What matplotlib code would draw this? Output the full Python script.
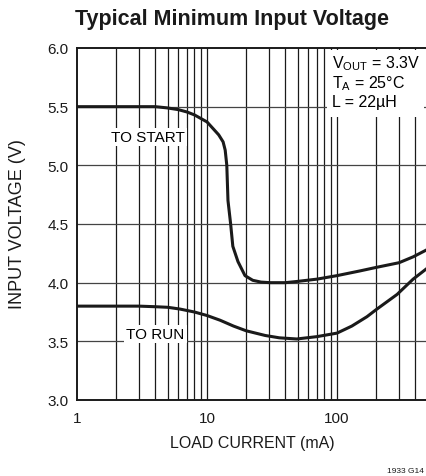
import numpy as np
import matplotlib; matplotlib.use('Agg')
import matplotlib.pyplot as plt
from matplotlib.ticker import FixedLocator, NullFormatter

plt.rcParams['font.family'] = ['Liberation Sans Narrow', 'Liberation Sans', 'DejaVu Sans']
plt.rcParams['mathtext.fontset'] = 'custom'
plt.rcParams['mathtext.rm'] = 'Liberation Sans'

# curve readings (load current mA, input voltage V)
start_x = [1, 2, 3, 4, 4.9, 6, 7, 8, 10, 11.2, 12.3, 13.3, 13.8, 14.2, 14.5, 15.2, 15.8, 17.3, 19.6, 22.5, 26, 30.5, 40, 49, 70, 100, 150, 200, 300, 385, 490]
start_y = [5.50, 5.50, 5.50, 5.50, 5.49, 5.475, 5.455, 5.43, 5.37, 5.31, 5.26, 5.20, 5.13, 5.00, 4.70, 4.50, 4.31, 4.18, 4.06, 4.02, 4.005, 4.00, 4.00, 4.01, 4.03, 4.06, 4.10, 4.13, 4.17, 4.22, 4.28]
run_x = [1, 2, 3, 4, 5, 6.2, 8, 10, 12.6, 16, 20, 28, 36, 49, 70, 100, 130, 170, 200, 290, 385, 490]
run_y = [3.80, 3.80, 3.80, 3.795, 3.79, 3.775, 3.75, 3.72, 3.68, 3.63, 3.59, 3.55, 3.53, 3.52, 3.54, 3.57, 3.63, 3.71, 3.77, 3.90, 4.03, 4.12]

fig = plt.figure(figsize=(4.27, 4.77), dpi=100)
ax = fig.add_axes([77/427, 1 - 401/477, 1 - 77/427, (401 - 49)/477])

ax.set_xscale('log')
ax.set_xlim(1, 10 ** ((427 - 77) / 130.0))
ax.set_ylim(3.0, 6.0)

# grid
for v in list(range(2, 10)) + list(range(10, 100, 10)) + list(range(100, 500, 100)):
    ax.axvline(v, color='#1a1a1a', lw=0.9, zorder=1)
for y in [3.5, 4.0, 4.5, 5.0, 5.5]:
    ax.axhline(y, color='#444444', lw=0.9, zorder=1)

ax.plot(start_x, start_y, color='#1a1a1a', lw=2.2, zorder=3, solid_capstyle='round', solid_joinstyle='round')
ax.plot(run_x, run_y, color='#1a1a1a', lw=2.2, zorder=3, solid_capstyle='round', solid_joinstyle='round')

ax.set_xticks([1, 10, 100])
ax.set_xticklabels(['1', '10', '100'])
ax.xaxis.set_minor_locator(FixedLocator([]))
ax.xaxis.set_minor_formatter(NullFormatter())
ax.set_yticks([3.0, 3.5, 4.0, 4.5, 5.0, 5.5, 6.0])
ax.set_yticklabels(['3.0', '3.5', '4.0', '4.5', '5.0', '5.5', '6.0'])
ax.tick_params(length=0, labelsize=11, pad=6, colors='#1a1a1a')
ax.tick_params(axis='x', pad=8)
for s in ['left', 'bottom', 'top']:
    ax.spines[s].set_linewidth(1.4)
    ax.spines[s].set_color('#1a1a1a')
ax.spines['right'].set_visible(False)

fig.text(252/427, 1 - 444/477, 'LOAD CURRENT (mA)', fontsize=11.5, color='#1a1a1a', ha='center', va='center')
fig.text(18/427, 1 - 224/477, 'INPUT VOLTAGE (V)', fontsize=13, color='#1a1a1a', ha='center', va='center',
         rotation=90)

# curve labels
ax.text(3.5, 5.24, 'TO START', fontsize=11, ha='center', va='center', zorder=4,
        bbox=dict(facecolor='white', edgecolor='none', pad=1.5))
ax.text(4.0, 3.56, 'TO RUN', fontsize=11, ha='center', va='center', zorder=4,
        bbox=dict(facecolor='white', edgecolor='none', pad=1.5))

# conditions box
fig.patches.append(plt.Rectangle((327/427, 1 - 118/477), 97/427, 67/477, transform=fig.transFigure,
                                 facecolor='white', edgecolor='none', zorder=5))
fig.text(332/427, 1 - 64/477, r'V$_{\mathrm{OUT}}$ = 3.3V', fontsize=11.5, va='center', zorder=6)
fig.text(332/427, 1 - 84/477, r'T$_{\mathrm{A}}$ = 25°C', fontsize=11.5, va='center', zorder=6)
fig.text(332/427, 1 - 103/477, 'L = 22µH', fontsize=11.5, va='center', zorder=6)

fig.text(232/427, 1 - 20/477, 'Typical Minimum Input Voltage', fontsize=15.5, fontweight='bold',
         ha='center', va='center', color='#1a1a1a')
fig.text(424/427, 1 - 472/477, '1933 G14', fontsize=6, ha='right', va='center', color='#1a1a1a')

fig.savefig('out.png', dpi=100)
